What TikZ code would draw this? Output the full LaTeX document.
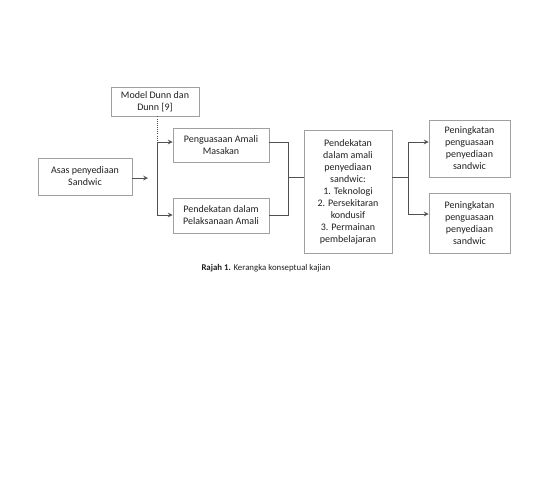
\documentclass[tikz,border=0pt]{standalone}
\usepackage{fontspec}
\setmainfont{Carlito}
\usepackage{xcolor}
\usepackage{tikz}
\usetikzlibrary{calc}

\definecolor{boxgrey}{HTML}{A0A0A0}
\definecolor{linegrey}{HTML}{505050}
\definecolor{txtgrey}{HTML}{202020}

\begin{document}
\begin{tikzpicture}[
    x=0.75pt, y=-0.75pt,
    >=stealth,
    line width=0.6pt,
    every node/.style={font=\rmfamily\fontsize{7.5}{9}\selectfont, text=txtgrey},
    kotak/.style={draw=boxgrey, align=center, inner sep=1pt},
    conn/.style={draw=linegrey}
  ]
    \useasboundingbox (0,0) rectangle (560,478);

    \node[kotak, minimum width=66pt, minimum height=21.75pt] (model) at (155,101.5) {Model Dunn dan\\Dunn [9]};
    \node[kotak, minimum width=70.5pt, minimum height=27.75pt] (asas) at (85,176.5) {Asas penyediaan\\Sandwic};
    \node[kotak, minimum width=72pt, minimum height=25.5pt] (pengu) at (221,145) {Penguasaan Amali\\Masakan};
    \node[kotak, minimum width=72pt, minimum height=26.25pt] (pelak) at (221,215.5) {Pendekatan dalam\\Pelaksanaan Amali};
    \node[kotak, minimum width=66pt, minimum height=92.25pt] (pendekatan) at (348,191.5)
      {Pendekatan\\dalam amali\\penyediaan\\sandwic:\\1. Teknologi\\2. Persekitaran\\kondusif\\3. Permainan\\pembelajaran};
    \node[kotak, minimum width=60.75pt, minimum height=42.75pt] (hasilA) at (469.5,148.5)
      {Peningkatan\\penguasaan\\penyediaan\\sandwic};
    \node[kotak, minimum width=60.75pt, minimum height=45pt] (hasilB) at (469.5,223)
      {Peningkatan\\penguasaan\\penyediaan\\sandwic};
    \node[font=\rmfamily\fontsize{6.6}{8}\selectfont] (cap) at (266,268)
      {\textbf{Rajah 1.} Kerangka konseptual kajian};

    % left side
    \coordinate (masuk) at (148,178);
    \coordinate (vtop) at (157,142);
    \coordinate (vbot) at (157,215);
    \draw[conn,->] (asas.east |- masuk) -- (masuk);
    \draw[conn] (vtop) -- (vbot);
    \draw[conn, densely dotted] (vtop |- model.south) -- (vtop);
    \draw[conn,->] (vtop) -- (vtop -| pengu.west);
    \draw[conn,->] (vbot) -- (vbot -| pelak.west);

    % join into the middle box
    \coordinate (gabung) at (288,177);
    \draw[conn] (pengu.east |- vtop) -| (gabung |- vbot) -- (pelak.east |- vbot);
    \draw[conn] (gabung) -- (pendekatan.west |- gabung);

    % fork to the outcomes
    \coordinate (ftop) at (408,142);
    \coordinate (fbot) at (408,214);
    \draw[conn] (pendekatan.east |- gabung) -- (gabung -| ftop);
    \draw[conn] (ftop) -- (fbot);
    \draw[conn,->] (ftop) -- (ftop -| hasilA.west);
    \draw[conn,->] (fbot) -- (fbot -| hasilB.west);
  \end{tikzpicture}
\end{document}
